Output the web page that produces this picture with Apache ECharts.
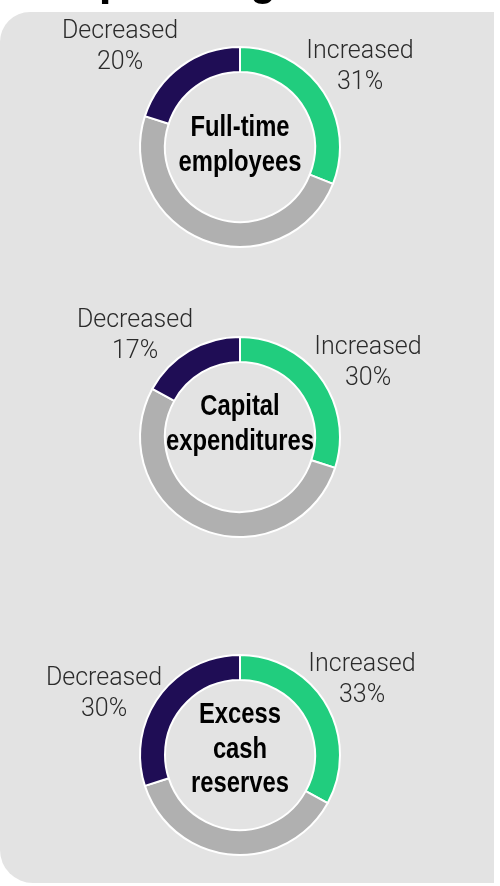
<!DOCTYPE html>
<html>
<head>
<meta charset="utf-8">
<script src="https://cdn.jsdelivr.net/npm/echarts@6/dist/echarts.min.js"></script>
<style>
html,body{margin:0;padding:0;background:#fff;}
#chart{width:500px;height:886px;}
</style>
</head>
<body>
<div id="chart"></div>
<script>
// ---- data ----
var titleText = 'Spending';
var categories = ['Full-time\nemployees', 'Capital\nexpenditures', 'Excess\ncash\nreserves'];
var segmentNames = ['Increased', 'No change', 'Decreased'];
var increased = [31, 30, 33];
var noChange = [49, 53, 37];
var decreased = [20, 17, 30];

// ---- layout ----
var centers = [[240, 147], [240, 437], [240, 755]];
var decLabelPos = [[120, 40], [135, 329], [104, 687]];   // x center, baseline of first line
var incLabelPos = [[360, 60], [368, 356], [362, 673]];
var centerFirstBaseline = [138, 417, 725];
var colors = ['#21cd7e', '#b0b0b0', '#1f0d55'];

var chart = echarts.init(document.getElementById('chart'), null, {renderer: 'canvas'});

var labelFont = {fontFamily: 'Roboto, "Liberation Sans", sans-serif', fontWeight: 300, fontSize: 25, fill: '#2b2b2b'};
var centerFontFamily = '"Liberation Sans", Arial, sans-serif';

var series = [];
var graphics = [];

// background panel
graphics.push({
  type: 'rect', z: -10, silent: true,
  shape: {x: 0, y: 12, width: 494, height: 871, r: [30, 0, 0, 33]},
  style: {fill: '#e3e3e3'}
});
// title (mostly cut off at the top of the frame)
graphics.push({
  type: 'text', z: -20, silent: true,
  x: 68, y: -23, scaleX: 0.82,
  style: {text: titleText, fontFamily: centerFontFamily, fontWeight: 'bold', fontSize: 56, fill: '#000', align: 'left', verticalAlign: 'middle'}
});

function addLines(lines, x, firstBaseline, step, font, offset, sx) {
  lines.forEach(function (t, i) {
    graphics.push({
      type: 'text', silent: true, z: 10,
      x: x, y: firstBaseline + i * step - offset,
      scaleX: sx || 1,
      style: Object.assign({text: t, align: 'center', verticalAlign: 'middle'}, font)
    });
  });
}

for (var k = 0; k < categories.length; k++) {
  series.push({
    type: 'pie',
    center: centers[k],
    radius: [75, 100],
    startAngle: 90,
    clockwise: true,
    silent: true,
    animation: false,
    label: {show: false},
    labelLine: {show: false},
    itemStyle: {borderColor: '#ffffff', borderWidth: 2},
    data: [
      {name: segmentNames[0], value: increased[k], itemStyle: {color: colors[0]}},
      {name: segmentNames[1], value: noChange[k], itemStyle: {color: colors[1]}},
      {name: segmentNames[2], value: decreased[k], itemStyle: {color: colors[2]}}
    ]
  });
  addLines([segmentNames[2], decreased[k] + '%'], decLabelPos[k][0], decLabelPos[k][1], 31.5, labelFont, 8.5);
  addLines([segmentNames[0], increased[k] + '%'], incLabelPos[k][0], incLabelPos[k][1], 31.5, labelFont, 8.5);
  addLines(categories[k].split('\n'), centers[k][0], centerFirstBaseline[k], 34.5,
    {fontFamily: centerFontFamily, fontWeight: 'bold', fontSize: 29, fill: '#000'}, 10, 0.82);
}

chart.setOption({
  backgroundColor: '#ffffff',
  animation: false,
  series: series,
  graphic: graphics
});
</script>
</body>
</html>
